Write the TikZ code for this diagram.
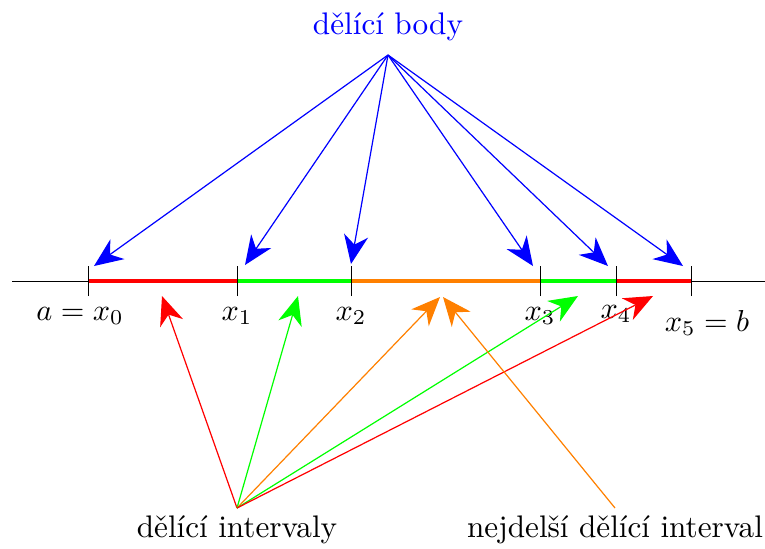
\documentclass[tikz,border=0pt]{standalone}
\usetikzlibrary{arrows.meta}
\begin{document}
\begin{tikzpicture}[x=0.33pt,y=-0.33pt,
  ptr/.style={line width=0.4pt,-{Stealth[length=9.5pt,width=8pt,inset=3pt]}},
  seg/.style={line width=1.3pt},
  tck/.style={line width=0.3pt},
  lbl/.style={inner sep=1pt,font=\fontsize{10.3}{12}\selectfont}]
\useasboundingbox (0,0) rectangle (765,548);
% axis ticks
\coordinate (L) at (12,281);
\coordinate (R) at (765,281);
\coordinate (t0) at (88,281);
\coordinate (t1) at (237,281);
\coordinate (t2) at (351,281);
\coordinate (t3) at (540,281);
\coordinate (t4) at (616,281);
\coordinate (t5) at (691,281);
\draw[tck] (L) -- (R);
\draw[seg,red] (t0) -- (t1);
\draw[seg,green] (t1) -- (t2);
\draw[seg,orange] (t2) -- (t3);
\draw[seg,green] (t3) -- (t4);
\draw[seg,red] (t4) -- (t5);
\foreach \i in {0,...,5}{
  \draw[tck] ([yshift=-5pt]t\i) -- ([yshift=5pt]t\i);
}
% labels of points
\node[lbl] (l0) at (80,316) {$a=x_0$};
\node[lbl] (l1) at (237,316) {$x_1$};
\node[lbl] (l2) at (351,316) {$x_2$};
\node[lbl] (l3) at (540,316) {$x_3$};
\node[lbl] (l4) at (616,314) {$x_4$};
\node[lbl] (l5) at (707,323) {$x_5=b$};
% top label and blue arrows
\node[lbl,blue] (top) at (388,27) {dělící body};
\coordinate (bs) at (388,55);
\coordinate (b0) at (94,266);
\coordinate (b1) at (245,265);
\coordinate (b2) at (351,264);
\coordinate (b3) at (533,266);
\coordinate (b4) at (608,266);
\coordinate (b5) at (683,266);
\foreach \i in {0,...,5}{
  \draw[ptr,blue] (bs) -- (b\i);
}
% bottom labels and interval arrows
\node[lbl] (di) at (237,530) {dělící intervaly};
\node[lbl] (nd) at (615,530) {nejdelší dělící interval};
\coordinate (ds) at (237,508);
\coordinate (ns) at (615,508);
\coordinate (i1) at (162,296);
\coordinate (i2) at (298,296);
\coordinate (i3) at (440,297);
\coordinate (i3b) at (443,297);
\coordinate (i4) at (578,296);
\coordinate (i5) at (653,296);
\draw[ptr,red] (ds) -- (i1);
\draw[ptr,green] (ds) -- (i2);
\draw[ptr,orange] (ds) -- (i3);
\draw[ptr,green] (ds) -- (i4);
\draw[ptr,red] (ds) -- (i5);
\draw[ptr,orange] (ns) -- (i3b);
\end{tikzpicture}
\end{document}
